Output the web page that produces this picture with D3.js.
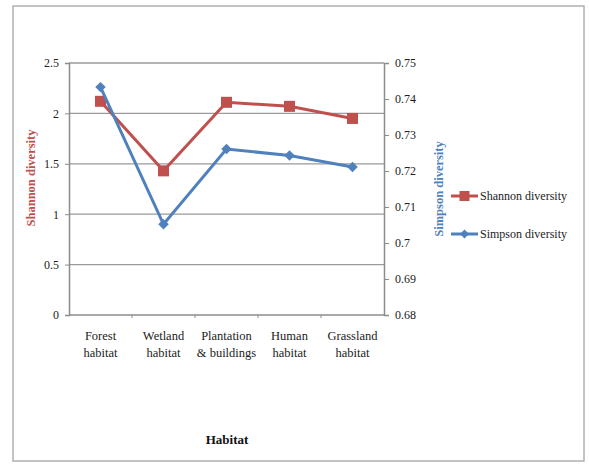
<!DOCTYPE html>
<html>
<head>
<meta charset="utf-8">
<script src="https://cdn.jsdelivr.net/npm/d3@7"></script>
<style>
  html, body { margin: 0; padding: 0; background: #fff; }
  svg { display: block; }
  text { font-family: "Liberation Serif", "Times New Roman", serif; }
</style>
</head>
<body>
<svg id="chart" width="589" height="466"></svg>
<script>
// Habitat categories (two-line labels)
const habitats = ["Forest habitat", "Wetland habitat", "Plantation habitat", "Human habitat", "Grassland habitat"];
const habitatLines = [["Forest", "habitat"], ["Wetland", "habitat"], ["Plantation", "& buildings"], ["Human", "habitat"], ["Grassland", "habitat"]];

// Diversity indices per habitat
const shannon = [2.12, 1.43, 2.11, 2.07, 1.95];
const simpson = [0.7433, 0.7052, 0.7261, 0.7243, 0.7211];

// Axis ticks
const leftTicks = [0, 0.5, 1, 1.5, 2, 2.5];
const leftTickLabels = ["0", "0.5", "1", "1.5", "2", "2.5"];
const rightTicks = [0.68, 0.69, 0.70, 0.71, 0.72, 0.73, 0.74, 0.75];
const rightTickLabels = ["0.68", "0.69", "0.7", "0.71", "0.72", "0.73", "0.74", "0.75"];

const RED = "#C0504D", BLUE = "#4F81BD", GRID = "#9a9a9a", AXIS = "#8c8c8c";

const svg = d3.select("#chart");

// outer frame
svg.append("rect").attr("x", 13).attr("y", 6).attr("width", 571).attr("height", 455)
  .attr("fill", "#fff").attr("stroke", "#b0b0b0").attr("stroke-width", 1.5);

const plot = { left: 69, right: 384, top: 63, bottom: 315 };

const x = d3.scaleBand().domain(habitats).range([plot.left, plot.right]).padding(0);
const yL = d3.scaleLinear().domain([0, 2.5]).range([plot.bottom, plot.top]);
const yR = d3.scaleLinear().domain([0.68, 0.75]).range([plot.bottom, plot.top]);

// horizontal gridlines
svg.append("g").selectAll("line").data(leftTicks.filter(d => d > 0)).join("line")
  .attr("x1", plot.left).attr("x2", plot.right)
  .attr("y1", d => yL(d)).attr("y2", d => yL(d))
  .attr("stroke", GRID).attr("stroke-width", 1.3);

// left axis
const leftAxis = d3.axisLeft(yL).tickValues(leftTicks).tickSize(4).tickPadding(6)
  .tickFormat((d, i) => leftTickLabels[i]);
const gL = svg.append("g").attr("transform", `translate(${plot.left},0)`).call(leftAxis);
gL.select(".domain").attr("stroke", AXIS).attr("stroke-width", 1.5);
gL.selectAll(".tick line").attr("stroke", AXIS);
gL.selectAll(".tick text").attr("font-size", 12).attr("fill", "#222")
  .style("font-family", "'Liberation Serif', serif");

// right axis
const rightAxis = d3.axisRight(yR).tickValues(rightTicks).tickSize(5).tickPadding(6)
  .tickFormat((d, i) => rightTickLabels[i]);
const gR = svg.append("g").attr("transform", `translate(${plot.right},0)`).call(rightAxis);
gR.select(".domain").attr("stroke", AXIS).attr("stroke-width", 1.5);
gR.selectAll(".tick line").attr("stroke", AXIS);
gR.selectAll(".tick text").attr("font-size", 12).attr("fill", "#222")
  .style("font-family", "'Liberation Serif', serif");

// bottom axis with ticks between categories
const gB = svg.append("g").attr("transform", `translate(0,${plot.bottom})`);
gB.append("line").attr("x1", plot.left).attr("x2", plot.right).attr("y1", 0).attr("y2", 0)
  .attr("stroke", AXIS).attr("stroke-width", 1.5);
gB.selectAll("line.tk").data(habitats.slice(1)).join("line").attr("class", "tk")
  .attr("x1", d => x(d)).attr("x2", d => x(d)).attr("y1", 0).attr("y2", 3)
  .attr("stroke", AXIS).attr("stroke-width", 1);
const lbl = gB.selectAll("text.cat").data(habitats).join("text").attr("class", "cat")
  .attr("text-anchor", "middle").attr("font-size", 12.5).attr("fill", "#222")
  .attr("x", d => x(d) + x.bandwidth() / 2);
lbl.each(function(d, i) {
  const t = d3.select(this);
  habitatLines[i].forEach((s, j) => {
    t.append("tspan").attr("x", x(d) + x.bandwidth() / 2).attr("y", 25 + j * 17).text(s);
  });
});

// axis titles
svg.append("text").attr("transform", "translate(35,178) rotate(-90)")
  .attr("text-anchor", "middle").attr("font-size", 12.5).attr("font-weight", "bold")
  .attr("fill", RED).text("Shannon diversity");
svg.append("text").attr("transform", "translate(443,189) rotate(-90)")
  .attr("text-anchor", "middle").attr("font-size", 12.5).attr("font-weight", "bold")
  .attr("fill", BLUE).text("Simpson diversity");
svg.append("text").attr("x", 227).attr("y", 444).attr("text-anchor", "middle")
  .attr("font-size", 13).attr("font-weight", "bold").attr("fill", "#111").text("Habitat");

const cx = (d, i) => x(habitats[i]) + x.bandwidth() / 2;

// Shannon series
svg.append("path").datum(shannon)
  .attr("d", d3.line().x(cx).y(d => yL(d)))
  .attr("fill", "none").attr("stroke", RED).attr("stroke-width", 3);
svg.append("g").selectAll("rect").data(shannon).join("rect")
  .attr("x", (d, i) => cx(d, i) - 5.5).attr("y", d => yL(d) - 5.5)
  .attr("width", 11).attr("height", 11).attr("fill", RED);

// Simpson series
svg.append("path").datum(simpson)
  .attr("d", d3.line().x(cx).y(d => yR(d)))
  .attr("fill", "none").attr("stroke", BLUE).attr("stroke-width", 3);
const diamond = d3.symbol().type(d3.symbolDiamond2).size(70);
svg.append("g").selectAll("path").data(simpson).join("path")
  .attr("d", diamond)
  .attr("transform", (d, i) => `translate(${cx(d, i)},${yR(d)})`)
  .attr("fill", BLUE);

// legend
const legend = [
  { name: "Shannon diversity", color: RED, shape: "square", y: 196 },
  { name: "Simpson diversity", color: BLUE, shape: "diamond", y: 234 }
];
const lg = svg.append("g");
legend.forEach(l => {
  lg.append("line").attr("x1", 451).attr("x2", 478).attr("y1", l.y).attr("y2", l.y)
    .attr("stroke", l.color).attr("stroke-width", 3);
  if (l.shape === "square") {
    lg.append("rect").attr("x", 464.5 - 5).attr("y", l.y - 5).attr("width", 10).attr("height", 10)
      .attr("fill", l.color);
  } else {
    lg.append("path").attr("d", d3.symbol().type(d3.symbolDiamond2).size(50))
      .attr("transform", `translate(464.5,${l.y})`).attr("fill", l.color);
  }
  lg.append("text").attr("x", 480).attr("y", l.y + 4).attr("font-size", 12)
    .attr("fill", "#222").text(l.name);
});
</script>
</body>
</html>
